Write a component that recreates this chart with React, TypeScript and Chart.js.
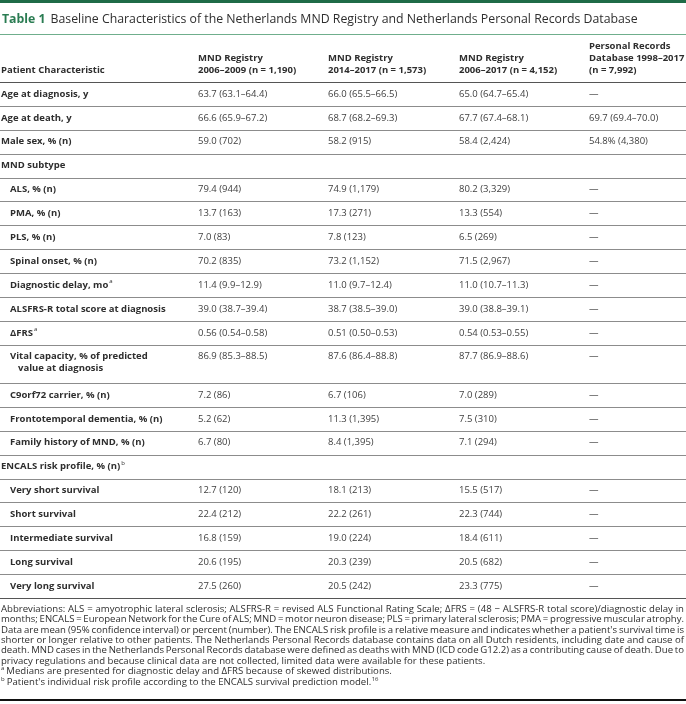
import React, { useEffect, useRef } from 'react';
import { Chart, registerables } from 'chart.js';
Chart.register(...registerables);

const tableNo = 'Table 1';
const title = 'Baseline Characteristics of the Netherlands MND Registry and Netherlands Personal Records Database';
const headerLabel = 'Patient Characteristic';
const colHeaders: string[][] = [
  ['MND Registry', '2006–2009 (n = 1,190)'],
  ['MND Registry', '2014–2017 (n = 1,573)'],
  ['MND Registry', '2006–2017 (n = 4,152)'],
  ['Personal Records', 'Database 1998–2017', '(n = 7,992)'],
];

const rowLabels = [
  'Age at diagnosis, y',
  'Age at death, y',
  'Male sex, % (n)',
  'MND subtype',
  'ALS, % (n)',
  'PMA, % (n)',
  'PLS, % (n)',
  'Spinal onset, % (n)',
  'Diagnostic delay, mo',
  'ALSFRS-R total score at diagnosis',
  'ΔFRS',
  'Vital capacity, % of predicted',
  'C9orf72 carrier, % (n)',
  'Frontotemporal dementia, % (n)',
  'Family history of MND, % (n)',
  'ENCALS risk profile, % (n)',
  'Very short survival',
  'Short survival',
  'Intermediate survival',
  'Long survival',
  'Very long survival',
];
const rowLabelCont = ['', '', '', '', '', '', '', '', '', '', '', 'value at diagnosis', '', '', '', '', '', '', '', '', ''];
const rowIndent = [0, 0, 0, 0, 1, 1, 1, 1, 1, 1, 1, 1, 1, 1, 1, 0, 1, 1, 1, 1, 1];
const rowSup = ['', '', '', '', '', '', '', '', 'a', '', 'a', '', '', '', '', 'b', '', '', '', '', ''];
const rowUnits = [1, 1, 1, 1, 1, 1, 1, 1, 1, 1, 1, 1.6, 1, 1, 1, 1, 1, 1, 1, 1, 1];

const reg0609 = ['63.7 (63.1–64.4)', '66.6 (65.9–67.2)', '59.0 (702)', '', '79.4 (944)', '13.7 (163)', '7.0 (83)', '70.2 (835)', '11.4 (9.9–12.9)', '39.0 (38.7–39.4)', '0.56 (0.54–0.58)', '86.9 (85.3–88.5)', '7.2 (86)', '5.2 (62)', '6.7 (80)', '', '12.7 (120)', '22.4 (212)', '16.8 (159)', '20.6 (195)', '27.5 (260)'];
const reg1417 = ['66.0 (65.5–66.5)', '68.7 (68.2–69.3)', '58.2 (915)', '', '74.9 (1,179)', '17.3 (271)', '7.8 (123)', '73.2 (1,152)', '11.0 (9.7–12.4)', '38.7 (38.5–39.0)', '0.51 (0.50–0.53)', '87.6 (86.4–88.8)', '6.7 (106)', '11.3 (1,395)', '8.4 (1,395)', '', '18.1 (213)', '22.2 (261)', '19.0 (224)', '20.3 (239)', '20.5 (242)'];
const reg0617 = ['65.0 (64.7–65.4)', '67.7 (67.4–68.1)', '58.4 (2,424)', '', '80.2 (3,329)', '13.3 (554)', '6.5 (269)', '71.5 (2,967)', '11.0 (10.7–11.3)', '39.0 (38.8–39.1)', '0.54 (0.53–0.55)', '87.7 (86.9–88.6)', '7.0 (289)', '7.5 (310)', '7.1 (294)', '', '15.5 (517)', '22.3 (744)', '18.4 (611)', '20.5 (682)', '23.3 (775)'];
const prd1998 = ['—', '69.7 (69.4–70.0)', '54.8% (4,380)', '', '—', '—', '—', '—', '—', '—', '—', '—', '—', '—', '—', '', '—', '—', '—', '—', '—'];

const footLines = [
  'Abbreviations: ALS = amyotrophic lateral sclerosis; ALSFRS-R = revised ALS Functional Rating Scale; ΔFRS = (48 − ALSFRS-R total score)/diagnostic delay in',
  'months; ENCALS = European Network for the Cure of ALS; MND = motor neuron disease; PLS = primary lateral sclerosis; PMA = progressive muscular atrophy.',
  "Data are mean (95% confidence interval) or percent (number). The ENCALS risk profile is a relative measure and indicates whether a patient's survival time is",
  'shorter or longer relative to other patients. The Netherlands Personal Records database contains data on all Dutch residents, including date and cause of',
  'death. MND cases in the Netherlands Personal Records database were defined as deaths with MND (ICD code G12.2) as a contributing cause of death. Due to',
  'privacy regulations and because clinical data are not collected, limited data were available for these patients.',
  'Medians are presented for diagnostic delay and ΔFRS because of skewed distributions.',
  "Patient's individual risk profile according to the ENCALS survival prediction model.",
];
const footJustify = [1, 1, 1, 1, 1, 0, 0, 0];
const footPreSup = ['', '', '', '', '', '', 'a', 'b'];
const footPostSup = ['', '', '', '', '', '', '', '16'];

const W = 686;
const H = 704;
const FONT = "'Open Sans', 'Noto Sans', sans-serif";
const colX = [1, 198, 328, 459, 589];
const TABLE_TOP = 82;
const TABLE_BOTTOM = 598;

const tablePlugin = {
  id: 'tableDraw',
  afterDraw(chart: any) {
    const ctx: CanvasRenderingContext2D = chart.ctx;
    const ys = chart.scales.y;
    const xs = chart.scales.x;
    ctx.save();
    ctx.textBaseline = 'middle';
    ctx.textAlign = 'left';

    // top bar
    ctx.fillStyle = '#1f6b47';
    ctx.fillRect(0, 0, W, 3);

    // title
    ctx.font = `bold 12.3px ${FONT}`;
    ctx.fillStyle = '#2a7c52';
    ctx.fillText(tableNo, 2, 19);
    const tw = ctx.measureText(tableNo).width;
    ctx.font = `12.3px ${FONT}`;
    ctx.fillStyle = '#2e2e2e';
    ctx.fillText(title, 2 + tw + 5, 19);

    ctx.strokeStyle = '#6fae8c';
    ctx.lineWidth = 1;
    ctx.beginPath();
    ctx.moveTo(0, 34.5);
    ctx.lineTo(W, 34.5);
    ctx.stroke();

    // header
    ctx.font = `bold 9.5px ${FONT}`;
    ctx.fillStyle = '#2e2e2e';
    ctx.fillText(headerLabel, xs.getPixelForValue(colX[0]), 70);
    colHeaders.forEach((lines, j) => {
      const x = xs.getPixelForValue(colX[j + 1]);
      const n = lines.length;
      lines.forEach((t, k) => {
        ctx.fillText(t, x, 70 - (n - 1 - k) * 12);
      });
    });

    ctx.strokeStyle = '#555555';
    ctx.lineWidth = 1.2;
    ctx.beginPath();
    ctx.moveTo(0, TABLE_TOP + 0.5);
    ctx.lineTo(W, TABLE_TOP + 0.5);
    ctx.stroke();

    // rows
    const cols = [reg0609, reg1417, reg0617, prd1998];
    let cum = 0;
    rowLabels.forEach((label, i) => {
      const yc = ys.getPixelForValue(cum + 0.5);
      const lx = xs.getPixelForValue(colX[0] + (rowIndent[i] ? 9 : 0));
      ctx.font = `bold 9.5px ${FONT}`;
      ctx.fillStyle = '#2e2e2e';
      ctx.fillText(label, lx, yc);
      if (rowSup[i]) {
        const lw = ctx.measureText(label).width;
        ctx.font = `6px ${FONT}`;
        ctx.fillText(rowSup[i], lx + lw + 1, yc - 3.5);
        ctx.font = `bold 9.5px ${FONT}`;
      }
      if (rowLabelCont[i]) {
        ctx.fillText(rowLabelCont[i], lx + 8, ys.getPixelForValue(cum + 1.0));
      }
      ctx.font = `9.5px ${FONT}`;
      ctx.fillStyle = '#404040';
      cols.forEach((arr, j) => {
        if (arr[i]) ctx.fillText(arr[i], xs.getPixelForValue(colX[j + 1]), yc);
      });
      cum += rowUnits[i];
      const ly = Math.round(ys.getPixelForValue(cum)) + 0.5;
      ctx.strokeStyle = i === rowLabels.length - 1 ? '#555555' : '#8c8c8c';
      ctx.lineWidth = i === rowLabels.length - 1 ? 1.2 : 1;
      ctx.beginPath();
      ctx.moveTo(0, ly);
      ctx.lineTo(W, ly);
      ctx.stroke();
    });

    // footnotes
    const fsize = 9.6;
    const fy0 = 609;
    const flh = 10.4;
    const right = 684;
    footLines.forEach((line, i) => {
      const y = fy0 + i * flh;
      let x = 1;
      ctx.fillStyle = '#2e2e2e';
      if (footPreSup[i]) {
        ctx.font = `6px ${FONT}`;
        ctx.fillText(footPreSup[i], x, y - 3);
        x += ctx.measureText(footPreSup[i]).width + 2;
      }
      ctx.font = `${fsize}px ${FONT}`;
      if (footJustify[i]) {
        const words = line.split(' ');
        let widths = words.map((w) => ctx.measureText(w).width);
        let total = widths.reduce((a, b) => a + b, 0);
        const space = ctx.measureText(' ').width;
        let scale = 1;
        if (total + space * 0.7 * (words.length - 1) > right - x) {
          scale = (right - x - space * 0.7 * (words.length - 1)) / total;
        }
        const gap = (right - x - total * scale) / (words.length - 1);
        let cx = x;
        words.forEach((w, k) => {
          if (scale < 1) {
            ctx.save();
            ctx.translate(cx, y);
            ctx.scale(scale, 1);
            ctx.fillText(w, 0, 0);
            ctx.restore();
          } else {
            ctx.fillText(w, cx, y);
          }
          cx += widths[k] * scale + gap;
        });
      } else {
        ctx.fillText(line, x, y);
        x += ctx.measureText(line).width;
        if (footPostSup[i]) {
          ctx.font = `6px ${FONT}`;
          ctx.fillText(footPostSup[i], x + 0.5, y - 3);
        }
      }
    });

    ctx.fillStyle = '#111111';
    ctx.fillRect(0, 699, W, 2);
    ctx.restore();
  },
};

export default function App() {
  const ref = useRef<HTMLCanvasElement | null>(null);
  useEffect(() => {
    if (!ref.current) return;
    const totalUnits = rowUnits.reduce((a, b) => a + b, 0);
    const chart = new Chart(ref.current, {
      type: 'scatter',
      data: { datasets: [{ data: [], pointRadius: 0 }] },
      options: {
        animation: false,
        responsive: false,
        devicePixelRatio: 1,
        layout: { padding: { top: TABLE_TOP, bottom: H - TABLE_BOTTOM, left: 0, right: 0 } },
        plugins: { legend: { display: false }, tooltip: { enabled: false }, title: { display: false } },
        scales: {
          x: { type: 'linear', min: 0, max: W, display: false },
          y: { type: 'linear', min: 0, max: totalUnits, reverse: true, display: false },
        },
      },
      plugins: [tablePlugin],
    });
    return () => chart.destroy();
  }, []);
  return (
    <div style={{ position: 'absolute', left: 0, top: 0, width: W, height: H, background: '#ffffff' }}>
      <canvas ref={ref} width={W} height={H} style={{ width: W, height: H, display: 'block' }} />
    </div>
  );
}
